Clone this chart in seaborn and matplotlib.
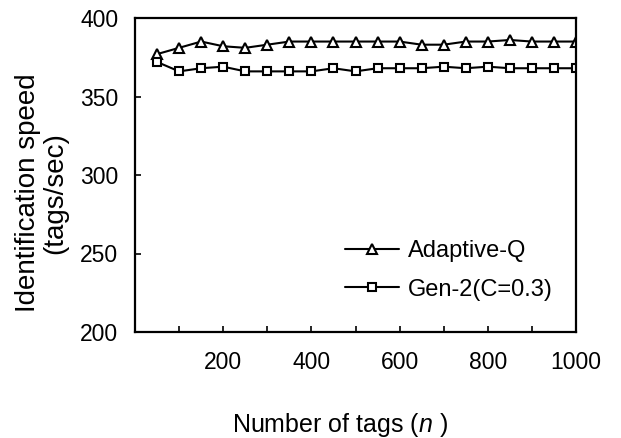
import matplotlib
matplotlib.use("Agg")
import matplotlib.pyplot as plt
import seaborn as sns
import pandas as pd
from matplotlib.lines import Line2D

n_tags = [50, 100, 150, 200, 250, 300, 350, 400, 450, 500,
          550, 600, 650, 700, 750, 800, 850, 900, 950, 1000]
adaptive_q = [377, 381, 385, 382, 381, 383, 385, 385, 385, 385,
              385, 385, 383, 383, 385, 385, 386, 385, 385, 385]
gen2 = [372, 366, 368, 369, 366, 366, 366, 366, 368, 366,
        368, 368, 368, 369, 368, 369, 368, 368, 368, 368]
series_names = ["Adaptive-Q", "Gen-2(C=0.3)"]
x_ticks = [0, 100, 200, 300, 400, 500, 600, 700, 800, 900, 1000]
x_labels = ["", "", "200", "", "400", "", "600", "", "800", "", "1000"]
y_ticks = [200, 250, 300, 350, 400]

sns.set_theme(style="white")
plt.rcParams["font.family"] = ["Liberation Sans", "DejaVu Sans"]
plt.rcParams["mathtext.fontset"] = "custom"
plt.rcParams["mathtext.it"] = "Liberation Sans:italic"
plt.rcParams["mathtext.rm"] = "Liberation Sans"
for k in ["text.color", "axes.labelcolor", "xtick.color", "ytick.color",
          "axes.edgecolor"]:
    plt.rcParams[k] = "black"

df = pd.DataFrame({
    "n": n_tags * 2,
    "speed": adaptive_q + gen2,
    "series": [series_names[0]] * len(n_tags) + [series_names[1]] * len(n_tags),
})

fig = plt.figure(figsize=(6.21, 4.38), dpi=100)
ax = fig.add_axes([135 / 621, 1 - 332 / 438, 441 / 621, 314 / 438])

sns.lineplot(data=df, x="n", y="speed", hue="series", style="series",
             palette={series_names[0]: "black", series_names[1]: "black"},
             markers={series_names[0]: "^", series_names[1]: "s"},
             dashes=False, linewidth=1.5, ax=ax, legend=False,
             markerfacecolor="white", markeredgecolor="black",
             markeredgewidth=1.5)
for line, ms in zip(ax.lines, [7, 5.5]):
    line.set_markersize(ms)

ax.set_xlim(0, 1000)
ax.set_ylim(200, 400)
ax.set_xticks(x_ticks)
ax.set_xticklabels(x_labels)
ax.set_yticks(y_ticks)
ax.tick_params(axis="both", direction="in", length=4, width=1.2,
               colors="black", labelcolor="black", labelsize=16.5,
               bottom=True, left=True)
ax.tick_params(axis="x", pad=14)
ax.tick_params(axis="y", pad=12)
for s in ax.spines.values():
    s.set_visible(True)
    s.set_color("black")
    s.set_linewidth(1.6)
ax.set_xlabel("")
ax.set_ylabel("")

fig.text(340 / 621, 1 - 425 / 438, r"Number of tags ($\it{n}$ )",
         ha="center", va="center", fontsize=18, color="black")
fig.text(42 / 621, 1 - 193 / 438, "Identification speed\n(tags/sec)",
         ha="center", va="center", rotation=90, fontsize=20,
         linespacing=1.05, color="black")

handles = [
    Line2D([], [], color="black", lw=1.5, marker="^", ms=7,
           mfc="white", mec="black", mew=1.5),
    Line2D([], [], color="black", lw=1.5, marker="s", ms=5.5,
           mfc="white", mec="black", mew=1.5),
]
leg = ax.legend(handles, series_names, loc="upper left",
                bbox_to_anchor=((345 - 135) / 441, (332 - 240) / 314),
                frameon=False, fontsize=17, handlelength=2.3,
                handletextpad=0.35, labelspacing=0.7, borderpad=0,
                borderaxespad=0)
for t in leg.get_texts():
    t.set_color("black")

fig.savefig("out.png", dpi=100, facecolor="white")
